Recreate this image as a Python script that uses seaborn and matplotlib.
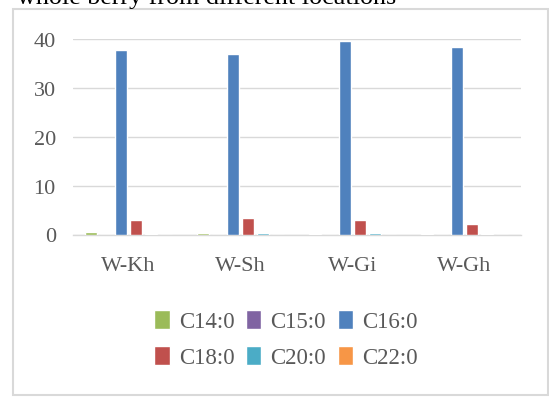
import matplotlib
matplotlib.use("Agg")
import matplotlib.pyplot as plt
from matplotlib.patches import Rectangle
import pandas as pd
import seaborn as sns

# Fatty acid composition (%) of whole berry by location
locations = ["W-Kh", "W-Sh", "W-Gi", "W-Gh"]
fatty_acids = ["C14:0", "C15:0", "C16:0", "C18:0", "C20:0", "C22:0"]
c14 = [0.55, 0.35, 0.2, 0.2]
c15 = [0.0, 0.0, 0.0, 0.0]
c16 = [37.7, 37.0, 39.6, 38.3]
c18 = [2.9, 3.3, 3.0, 2.1]
c20 = [0.2, 0.4, 0.4, 0.2]
c22 = [0.0, 0.0, 0.0, 0.0]
y_ticks = [0, 10, 20, 30, 40]

palette = ["#9BBB59", "#8064A2", "#4F81BD", "#C0504D", "#4BACC6", "#F79646"]
text_color = "#595959"
grid_color = "#D9D9D9"

series = [c14, c15, c16, c18, c20, c22]
df = pd.DataFrame(
    [(loc, fa, vals[i]) for fa, vals in zip(fatty_acids, series)
     for i, loc in enumerate(locations)],
    columns=["location", "fatty_acid", "value"],
)

sns.set_theme(style="white")
plt.rcParams["font.family"] = ["Liberation Serif", "DejaVu Serif"]

fig = plt.figure(figsize=(5.49, 4.06), dpi=100)
ax = fig.add_axes([72.5 / 549, 1 - 235.5 / 406, 448 / 549, 195.5 / 406])

sns.barplot(
    data=df, x="location", y="value", hue="fatty_acid",
    order=locations, hue_order=fatty_acids, palette=palette,
    width=0.8, gap=0.22, saturation=1, errorbar=None, ax=ax, zorder=3,
)

ax.set_ylim(0, 40)
ax.set_xlim(-0.5, len(locations) - 0.5)
ax.set_yticks(y_ticks)
ax.set_yticklabels([str(t) for t in y_ticks])
ax.set_xlabel("")
ax.set_ylabel("")
ax.yaxis.grid(True, color=grid_color, linewidth=1.0, zorder=0)
ax.set_axisbelow(True)
for side in ["left", "right", "top"]:
    ax.spines[side].set_visible(False)
ax.spines["bottom"].set_color(grid_color)
ax.spines["bottom"].set_linewidth(1.0)
ax.tick_params(axis="both", length=0, labelsize=16, labelcolor=text_color)
ax.tick_params(axis="y", pad=12)
ax.tick_params(axis="x", pad=15.5)

# Legend laid out row by row: three entries per row
handles, labels = ax.get_legend_handles_labels()
ax.get_legend().remove()
ncol, nrow = 3, 2
order = [r * ncol + c for c in range(ncol) for r in range(nrow)]
fig.legend(
    [handles[i] for i in order], [labels[i] for i in order],
    loc="center", bbox_to_anchor=(286 / 549, 1 - 340 / 406),
    ncol=ncol, frameon=False, fontsize=16.5, labelcolor=text_color,
    handlelength=0.68, handleheight=0.9, handletextpad=0.4,
    columnspacing=0.5, labelspacing=0.6,
)

# Chart frame
fig.patches.append(Rectangle(
    (13 / 549, 1 - 396 / 406), 535 / 549, 386 / 406,
    transform=fig.transFigure, fill=False, edgecolor=grid_color,
    linewidth=1.5, zorder=0,
))

# Caption line running off the top edge
fig.text(17 / 549, 1 - 4 / 406, "whole berry from different locations",
         fontsize=18.8, color="#000000", ha="left", va="baseline")

fig.savefig("out.png", dpi=100)
